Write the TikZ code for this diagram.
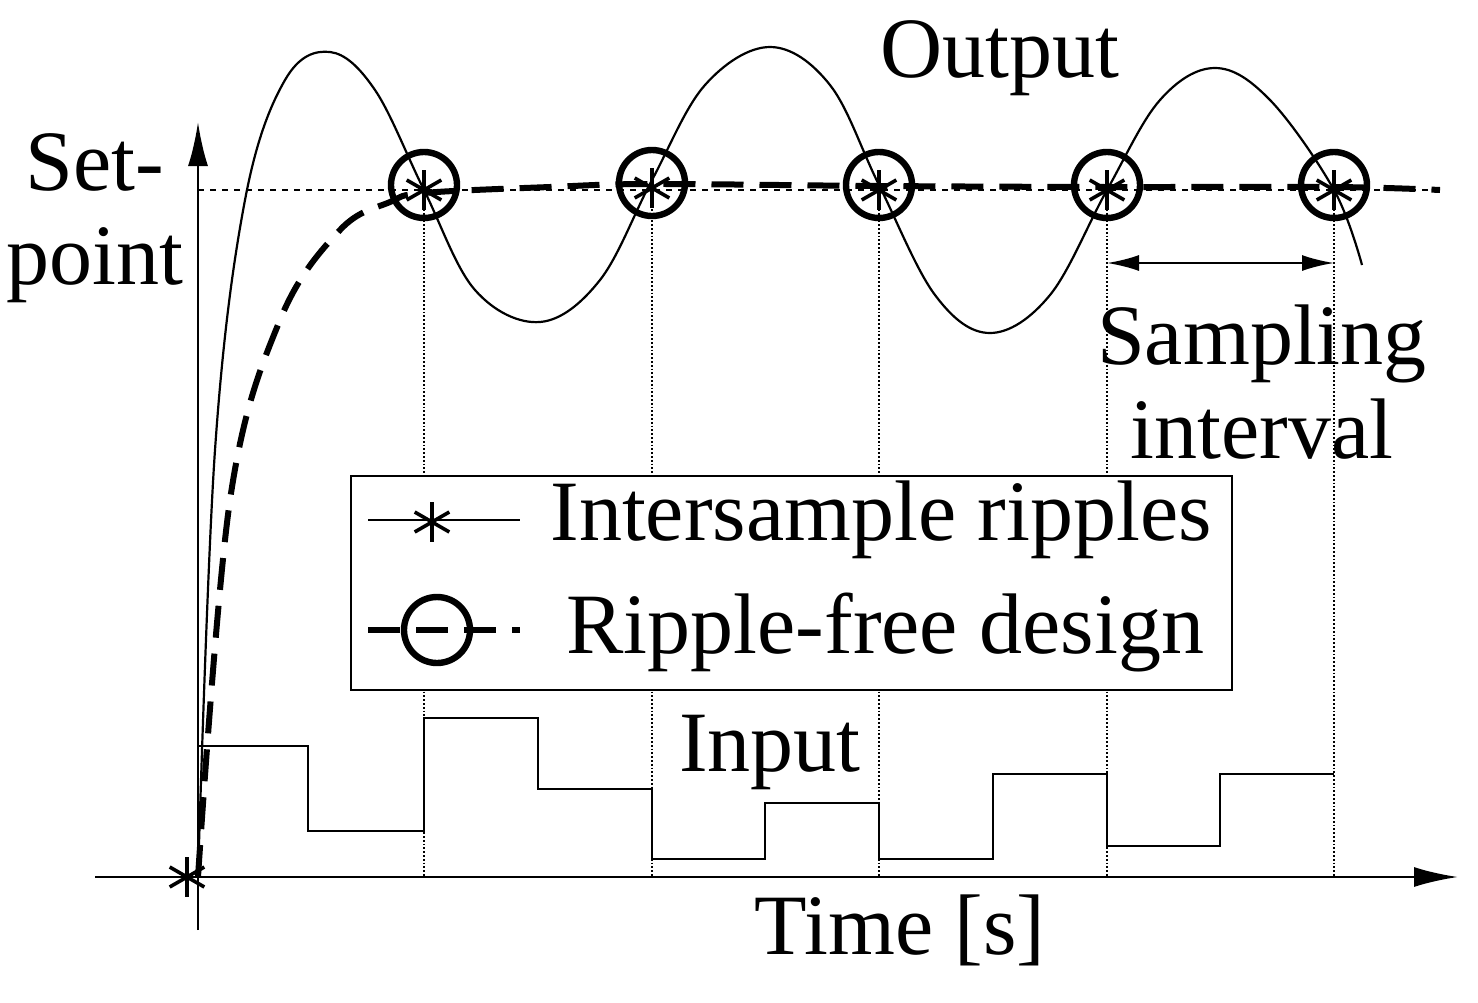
\documentclass[tikz,border=0pt]{standalone}
\usepackage{fontspec}
\setmainfont{Liberation Serif}
\usetikzlibrary{arrows.meta}
\begin{document}
\begin{tikzpicture}[x=0.5pt,y=-0.5pt,
  lbl/.style={font=\fontsize{43}{47}\selectfont,inner sep=0pt,align=center},
  circ/.style={line width=3.2pt},
  rf/.style={dash pattern=on 16pt off 8pt,line width=3pt},
  star/.pic={\foreach \a in {90,150,210,270,330,30}{\draw[line width=1.8pt] (0,0)--++(\a:20);}},
  dotl/.style={densely dotted,line width=0.9pt}]
\useasboundingbox (0,0) rectangle (1478,1002);
% axes
\coordinate (yb) at (198,930); \coordinate (yt) at (198,122);
\coordinate (xl) at (95,877); \coordinate (xr) at (1458,877);
\draw[line width=1.3pt,-{Latex[length=22pt,width=10pt]}] (yb)--(yt);
\draw[line width=1.3pt,-{Latex[length=22pt,width=10pt]}] (xl)--(xr);
\draw[dashed,line width=0.9pt] (198,190)--(1440,190);
\foreach \x in {424,652,879,1107,1334}{\draw[dotl] (\x,190)--(\x,877);}
% output
\draw[line width=1.1pt] plot[smooth,tension=0.6] coordinates{(198,877)(215,450)(245,200)(285,80)(330,52)(375,90)(424,190)(475,290)(540,322)(600,280)(652,180)(705,85)(770,47)(830,85)(879,185)(935,295)(990,333)(1050,295)(1107,190)(1160,100)(1215,68)(1270,100)(1334,190)(1362,265)};
% ripple-free
\draw[rf] plot[smooth,tension=0.6] coordinates{(198,877)(230,500)(280,320)(340,230)(390,202)(424,193)(550,187)(652,184)(879,186)(1107,187)(1334,187)(1440,190)};
\foreach \x/\y in {424/185,652/183,879/185,1107/185,1334/185}{\draw[circ] (\x,\y) circle (33); \pic at (\x,\y+5) {star};}
\pic at (187,877) {star};
% input
\draw[line width=1.3pt] (198,877)--(198,746)--(308,746)--(308,831)--(424,831)--(424,718)--(538,718)--(538,789)--(652,789)--(652,859)--(765,859)--(765,803)--(879,803)--(879,859)--(993,859)--(993,774)--(1107,774)--(1107,846)--(1220,846)--(1220,774)--(1334,774);
% sampling arrow
\coordinate (sa) at (1107,263); \coordinate (sb) at (1334,263);
\draw[line width=1.2pt,{Latex[length=16pt,width=8pt]}-{Latex[length=16pt,width=8pt]}] (sa)--(sb);
% legend
\draw[line width=1.3pt,fill=white] (351,476) rectangle (1232,690);
\draw[line width=1.1pt] (368,520)--(520,520); \pic at (432,522) {star};
\draw[rf] (368,630)--(520,630);
\draw[circ] (437,630) circle (33);
\node[lbl,anchor=west] (l1) at (550,520) {Intersample ripples};
\node[lbl,anchor=west] (l2) at (566,632) {Ripple-free design};
% labels
\node[lbl] (out) at (1000,58) {Output};
\node[lbl] (sp) at (95,218) {Set-\\point};
\node[lbl] (si) at (1262,382) {Sampling\\interval};
\node[lbl] (in) at (770,752) {Input};
\node[lbl] (tm) at (900,930) {Time [s]};
\end{tikzpicture}
\end{document}
